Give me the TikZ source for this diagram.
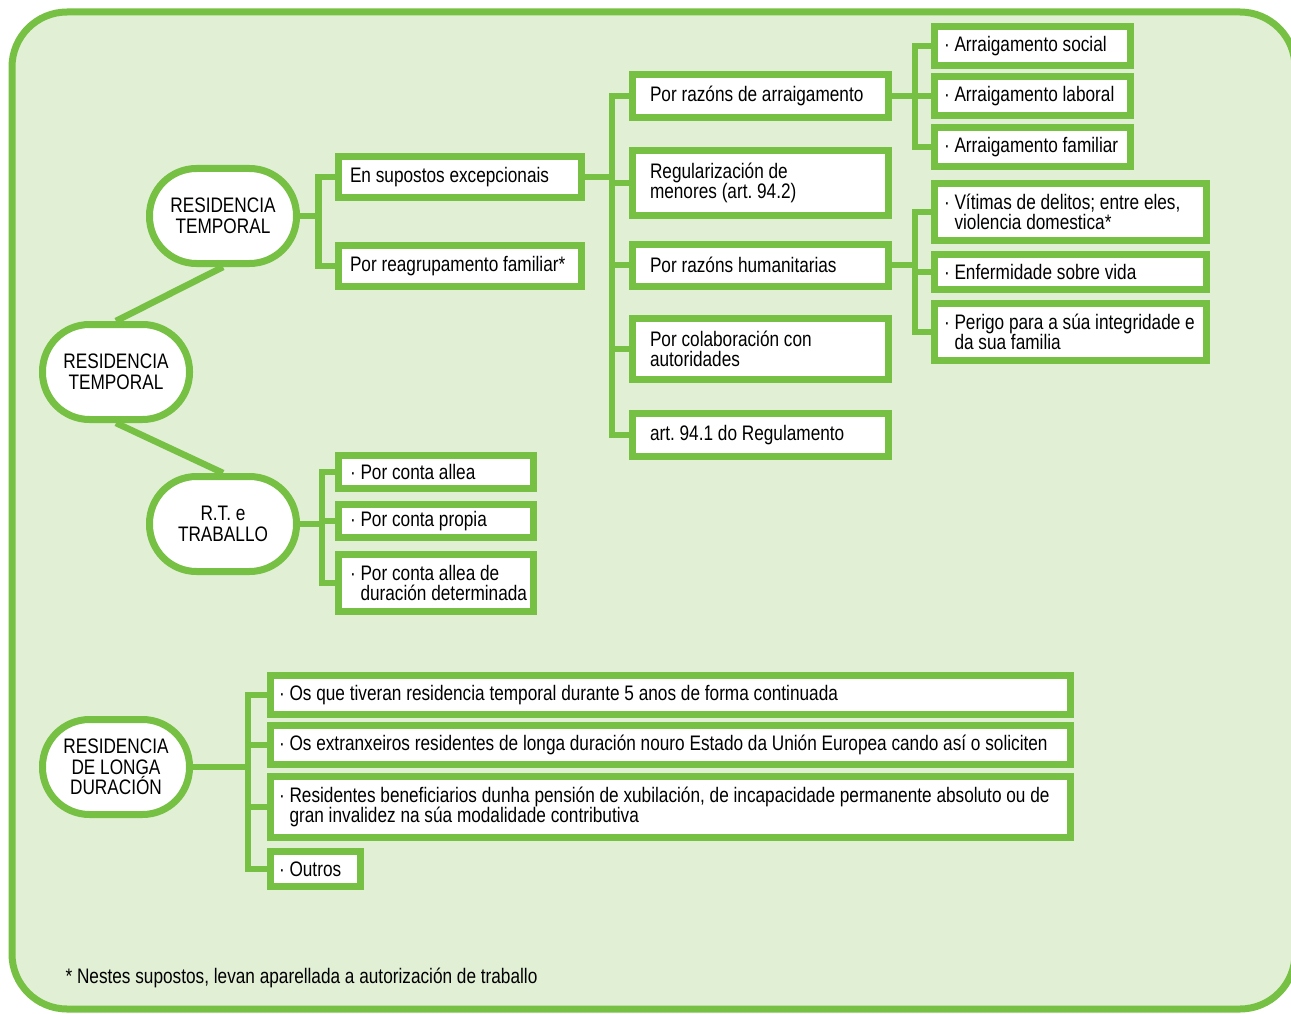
\documentclass[tikz,border=0pt]{standalone}
\usepackage{fontspec}
\setmainfont{Liberation Sans}[FakeStretch=0.82]
\usetikzlibrary{calc}
\definecolor{leafgreen}{RGB}{118,192,67}
\definecolor{paleground}{RGB}{225,239,213}

\tikzset{
	frame/.style={draw=leafgreen, line width=7pt, fill=paleground, rounded corners=55pt},
	hub/.style={draw=leafgreen, line width=7pt, fill=white, rectangle, rounded corners=47pt, minimum width=147pt, minimum height=95pt, align=center, inner sep=0pt},
	box/.style={draw=leafgreen, line width=7pt, fill=white, anchor=west, align=flush left},
	subbox/.style 2 args={box, inner xsep=12pt, inner ysep=7pt, text width=#1, minimum height=#2},
	catbox/.style={box, inner xsep=18pt, inner ysep=12pt, minimum height=42pt, text width=220pt},
	itembox/.style={box, inner xsep=10pt, inner ysep=10pt, minimum height=34pt, text width=#1},
	longbox/.style={box, inner xsep=9pt, inner ysep=10pt, minimum height=35pt, text width=#1},
	link/.style={draw=leafgreen, line width=6.5pt},
}

\begin{document}
\begin{tikzpicture}[x=1pt, y=-1pt, every node/.style={font=\fontsize{21pt}{20.5pt}\selectfont, execute at begin node={\frenchspacing\hyphenpenalty=10000}}]
		%%%%% START %%%%%
		\useasboundingbox (0,0) rectangle (1291,1014);
		\draw[frame] (12,12) rectangle (1295,1009);
		
		% hubs
		\node[hub] (root) at (116,372) {RESIDENCIA\\TEMPORAL};
		\node[hub] (tmp) at (223,216) {RESIDENCIA\\TEMPORAL};
		\node[hub] (work) at (223,524) {R.T. e\\TRABALLO};
		\node[hub] (long) at (116,767) {RESIDENCIA\\DE LONGA\\DURACIÓN};
		
		% residencia temporal
		\node[subbox={219pt}{41pt}] (exc) at (334.5,177) {En supostos excepcionais};
		\node[subbox={219pt}{41pt}] (fam) at (334.5,266) {Por reagrupamento familiar*};
		
		\node[catbox] (arr) at (628.5,96) {Por razóns de arraigamento};
		\node[catbox] (men) at (628.5,183) {Regularización de\\menores (art. 94.2)};
		\node[catbox] (hum) at (628.5,265) {Por razóns humanitarias};
		\node[catbox] (col) at (628.5,349) {Por colaboración con\\autoridades};
		\node[catbox] (reg) at (628.5,435) {art. 94.1 do Regulamento};
		
		\node[itembox=176pt] (soc) at (930.5,46) {· Arraigamento social};
		\node[itembox=176pt] (lab) at (930.5,96) {· Arraigamento laboral};
		\node[itembox=176pt] (fml) at (930.5,147) {· Arraigamento familiar};
		
		\node[itembox=252pt] (vit) at (930.5,212) {· Vítimas de delitos; entre eles,\\\phantom{· }violencia domestica*};
		\node[itembox=252pt] (enf) at (930.5,272) {· Enfermidade sobre vida};
		\node[itembox=252pt] (per) at (930.5,332) {· Perigo para a súa integridade e\\\phantom{· }da sua familia};
		
		% traballo
		\node[subbox={171pt}{33pt}] (ca1) at (334.5,472) {· Por conta allea};
		\node[subbox={171pt}{33pt}] (ca2) at (334.5,521) {· Por conta propia};
		\node[subbox={171pt}{33pt}, inner ysep=11pt] (ca3) at (334.5,583) {· Por conta allea de\\\mbox{\phantom{· }duración determinada}};
		
		% longa duracion
		\node[longbox=782pt] (ld1) at (266.5,695) {· Os que tiveran residencia temporal durante 5 anos de forma continuada};
		\node[longbox=782pt] (ld2) at (266.5,745) {· Os extranxeiros residentes de longa duración nouro Estado da Unión Europea cando así o soliciten};
		\node[longbox=782pt] (ld3) at (266.5,807) {\mbox{· Residentes beneficiarios dunha pensión de xubilación, de incapacidade permanente absoluto ou de}\\\phantom{· }gran invalidez na súa modalidade contributiva};
		\node[longbox=72pt] (ld4) at (266.5,869) {· Outros};
		
		% links
		\draw[link] (root.north) -- (tmp.south);
		\draw[link] (root.south) -- (work.north);
		
		\draw[link] (tmp.east) -- ++(18.5,0) coordinate (jt);
		\foreach \c in {exc,fam} \draw[link] (jt) |- (\c.west);
		
		\draw[link] (exc.east) -- ++(27.5,0) coordinate (je);
		\foreach \c in {arr,men,hum,col,reg} \draw[link] (je) |- (\c.west);
		
		\draw[link] (arr.east) -- ++(23.5,0) coordinate (ja);
		\foreach \c in {soc,lab,fml} \draw[link] (ja) |- (\c.west);
		
		\draw[link] (hum.east) -- ++(23.5,0) coordinate (jh);
		\foreach \c in {vit,enf,per} \draw[link] (jh) |- (\c.west);
		
		\draw[link] (work.east) -- ++(22,0) coordinate (jw);
		\foreach \c in {ca1,ca2,ca3} \draw[link] (jw) |- (\c.west);
		
		\draw[link] (long.east) -- ++(55,0) coordinate (jl);
		\foreach \c in {ld1,ld2,ld3,ld4} \draw[link] (jl) |- (\c.west);
		
		\node[anchor=west] (note) at (62,978) {* Nestes supostos, levan aparellada a autorización de traballo};
		%%%%% END %%%%%
\end{tikzpicture}
\end{document}
